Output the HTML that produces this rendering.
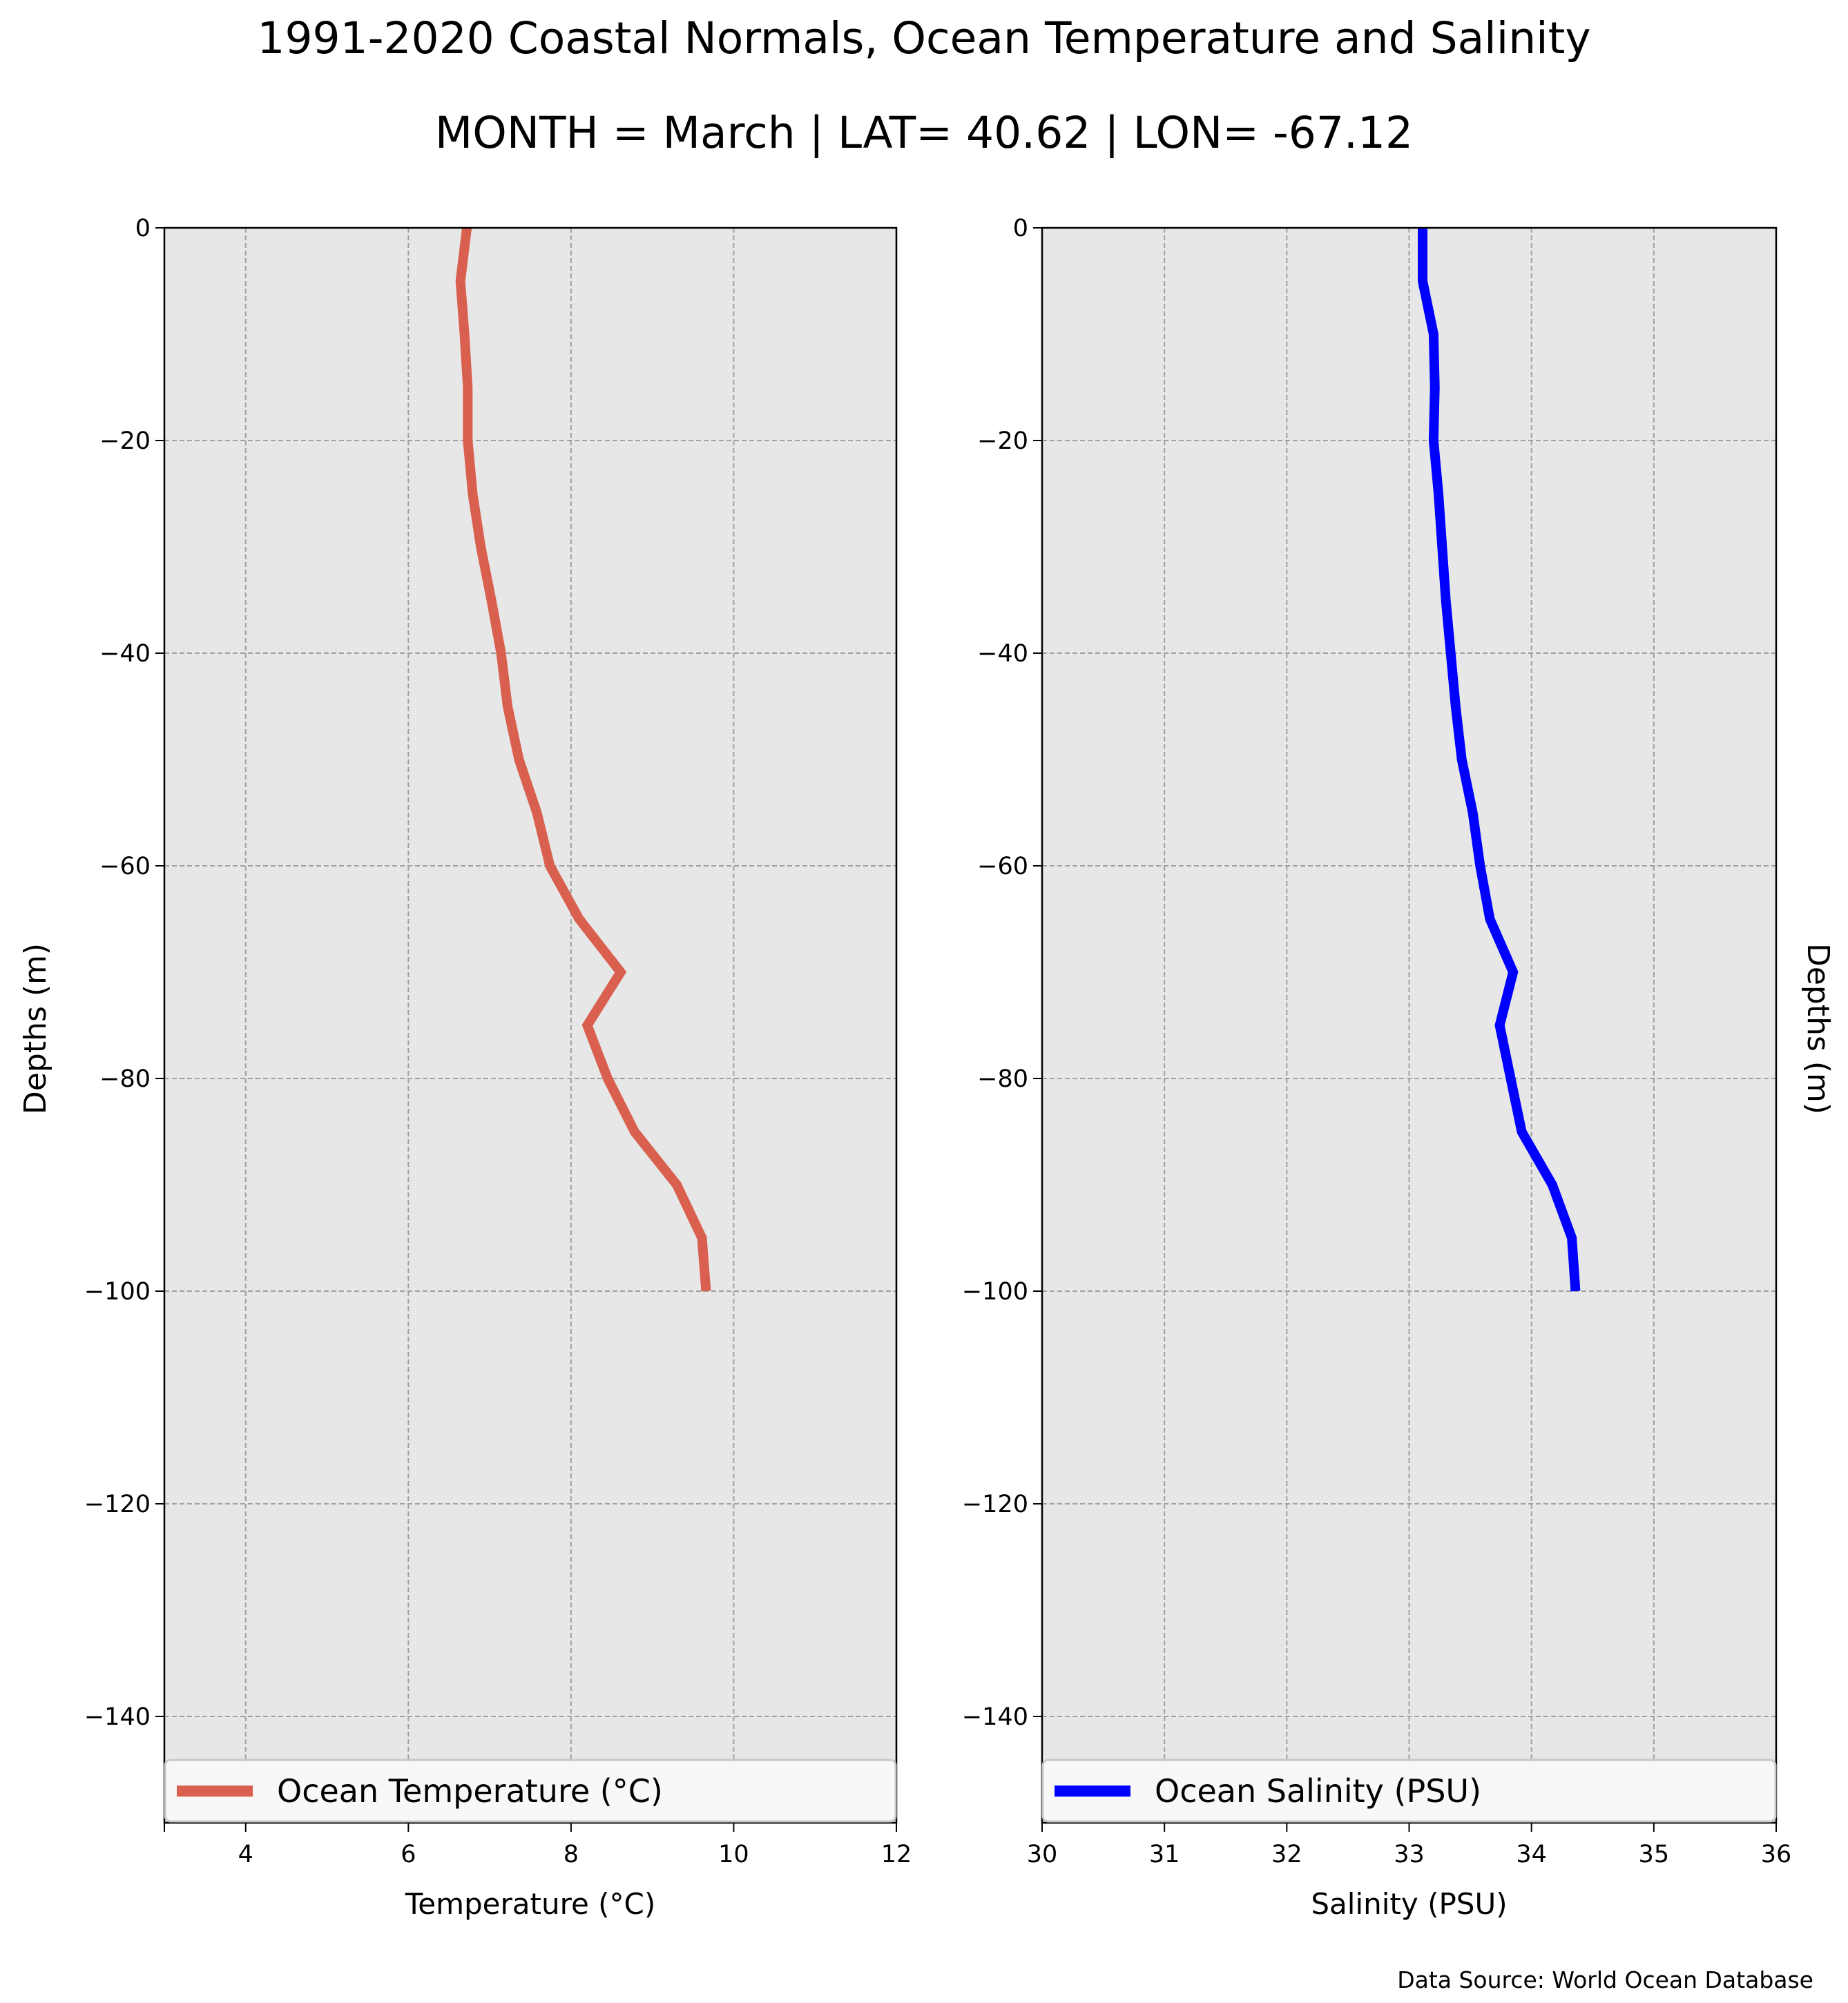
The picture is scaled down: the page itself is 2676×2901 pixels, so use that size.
<!DOCTYPE html>
<html><head><meta charset="utf-8"><style>
html,body{margin:0;padding:0;background:#fff;}
svg{display:block;font-family:"DejaVu Sans","Liberation Sans",sans-serif;}
</style></head><body>
<svg id="c" width="2676" height="2901" viewBox="0 0 2676 2901">
<text x="1338" y="77" font-size="63" text-anchor="middle">1991-2020 Coastal Normals, Ocean Temperature and Salinity</text>
<text x="1338" y="214" font-size="63" text-anchor="middle">MONTH = March | LAT= 40.62 | LON= -67.12</text>
<g id="p1"></g>
<g id="p2"></g>
<text x="2626" y="2879" font-size="33" text-anchor="end">Data Source: World Ocean Database</text>
</svg>
<script>
const depths = [0,-5,-10,-15,-20,-25,-30,-35,-40,-45,-50,-55,-60,-65,-70,-75,-80,-85,-90,-95,-100];
const temperature = [6.72,6.64,6.69,6.73,6.73,6.79,6.89,7.02,7.14,7.22,7.36,7.58,7.74,8.10,8.61,8.20,8.45,8.78,9.30,9.61,9.66];
const salinity = [33.11,33.11,33.20,33.21,33.20,33.24,33.27,33.30,33.34,33.38,33.43,33.52,33.58,33.66,33.85,33.74,33.83,33.92,34.17,34.33,34.36];
const yTicks = [0,-20,-40,-60,-80,-100,-120,-140];
const tempTicks = [4,6,8,10,12];
const salTicks = [30,31,32,33,34,35,36];

const NS="http://www.w3.org/2000/svg";
function mk(parent,tag,attrs,text){const e=document.createElementNS(NS,tag);for(const k in attrs)e.setAttribute(k,attrs[k]);if(text!==undefined)e.textContent=text;parent.appendChild(e);return e;}

function panel(g,x0,x1,xmin,xmax,xt,vals,color,legendText,xlabel,ylabelSide){
  const y0=330,y1=2640,ymin=-150,ymax=0;
  const sx=v=>x0+(v-xmin)/(xmax-xmin)*(x1-x0);
  const sy=v=>y0+(ymax-v)/(ymax-ymin)*(y1-y0);
  const bg=mk(g,'rect',{x:x0,y:y0,width:x1-x0,height:y1-y0,fill:'#e7e7e7'});
  
  
  xt.forEach(t=>{
    const l=mk(g,'line',{x1:sx(t),x2:sx(t),y1:y0,y2:y1,stroke:'#a0a0a0','stroke-width':2,'stroke-dasharray':'7,4'});
    
    
    const tk=mk(g,'line',{x1:sx(t),x2:sx(t),y1:y1,y2:y1+13,stroke:'#000','stroke-width':2});
    
    
    const tl=mk(g,'text',{x:sx(t),y:y1+57,'font-size':35,'text-anchor':'middle'},String(t));
    
    
  });
  if(xmin<xt[0]){const tk=mk(g,'line',{x1:x0,x2:x0,y1:y1,y2:y1+13,stroke:'#000','stroke-width':2});
    }
  yTicks.forEach(t=>{
    const l=mk(g,'line',{x1:x0,x2:x1,y1:sy(t),y2:sy(t),stroke:'#a0a0a0','stroke-width':2,'stroke-dasharray':'7,4'});
    
    
    const tk=mk(g,'line',{x1:x0-13,x2:x0,y1:sy(t),y2:sy(t),stroke:'#000','stroke-width':2});
    
    
    const tl=mk(g,'text',{x:x0-20,y:sy(t)+12,'font-size':35,'text-anchor':'end'},t<0?'\u2212'+Math.abs(t):String(t));
    
    
  });
  const pts=vals.map((v,i)=>sx(v).toFixed(1)+','+sy(depths[i]).toFixed(1)).join(' ');
  const pl=mk(g,'polyline',{points:pts,fill:'none',stroke:color,'stroke-width':14});
  
  
  const fr=mk(g,'rect',{x:x0,y:y0,width:x1-x0,height:y1-y0,fill:'none',stroke:'#000','stroke-width':2.5});
  
  
  const lg=mk(g,'g',{});
  
  
  mk(lg,'rect',{x:x0+1,y:2549,width:x1-x0-2,height:89,rx:8,fill:'#f9f9f9',stroke:'#c8c8c8','stroke-width':3,'fill-opacity':0.95});
  mk(lg,'line',{x1:x0+18,x2:x0+128,y1:2594,y2:2594,stroke:color,'stroke-width':16});
  mk(lg,'text',{x:x0+163,y:2610,'font-size':46},legendText);
  const xl=mk(g,'text',{x:(x0+x1)/2,y:2772,'font-size':42,'text-anchor':'middle'},xlabel);
  
  
  let yl;
  if(ylabelSide==='left') yl=mk(g,'text',{x:0,y:0,'font-size':44,'text-anchor':'middle',transform:'translate(66,1490) rotate(-90)'},'Depths (m)');
  else yl=mk(g,'text',{x:0,y:0,'font-size':44,'text-anchor':'middle',transform:'translate(2618,1490) rotate(90)'},'Depths (m)');
  
  
}
panel(document.getElementById('p1'),238,1298,3,12,tempTicks,temperature,'#d9604f','Ocean Temperature (\u00B0C)','Temperature (\u00B0C)','left');
panel(document.getElementById('p2'),1509,2572,30,36,salTicks,salinity,'#0000ff','Ocean Salinity (PSU)','Salinity (PSU)','right');
</script>
</body></html>
